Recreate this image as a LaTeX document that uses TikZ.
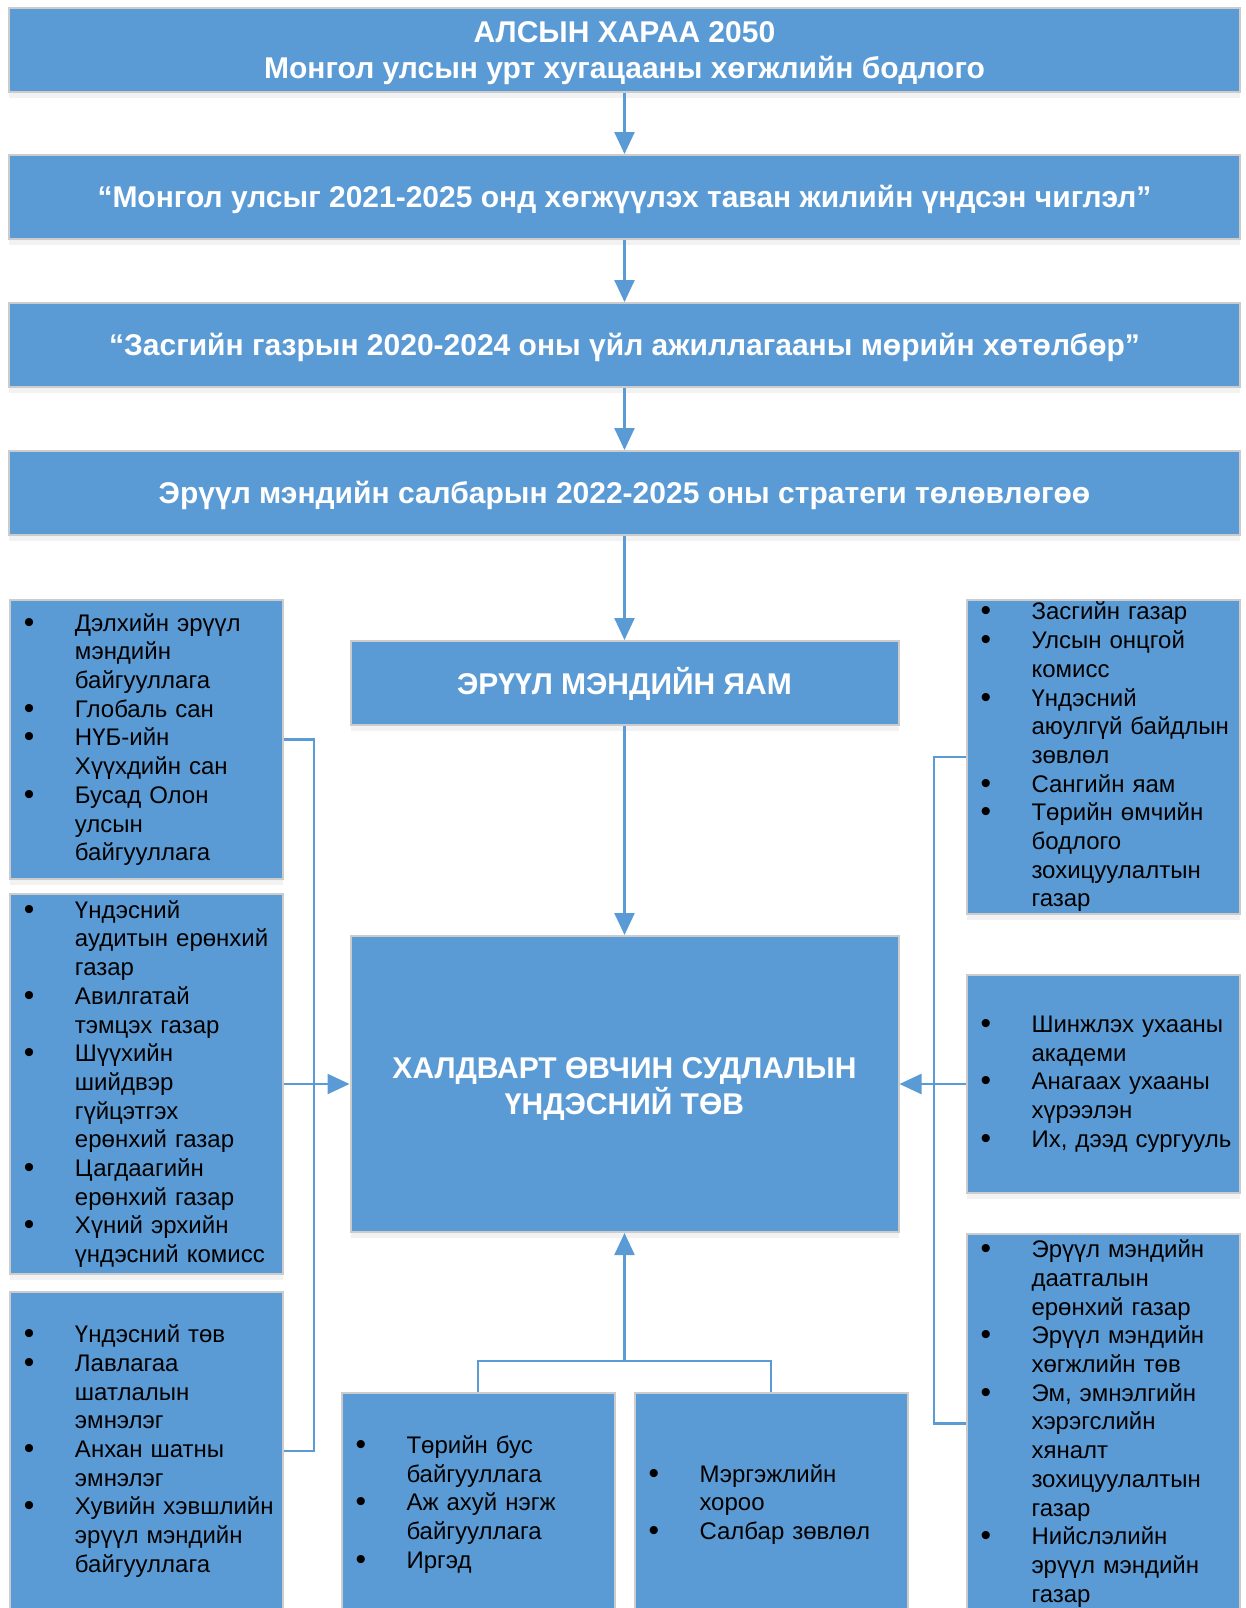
\documentclass[tikz,border=0pt]{standalone}
\usepackage{fontspec}
\setmainfont{Liberation Sans}
\usetikzlibrary{arrows.meta, shadows}
\definecolor{boxblue}{HTML}{5B9BD5}

% bullet line and continuation line of a list
\newcommand{\bl}[1]{\mbox{\makebox[25.5pt][l]{\raisebox{-0.5pt}{\fontsize{15}{14}\selectfont •}}#1}}
\newcommand{\cl}[1]{\mbox{\hspace*{25.5pt}#1}}

\begin{document}
\begin{tikzpicture}[x=0.5pt, y=-0.5pt,
    box/.style={draw=gray!40, line width=1pt, fill=boxblue,
        drop shadow={shadow xshift=0pt, shadow yshift=-3pt, opacity=0.1, fill=gray}},
    titlebox/.style={box, text=white, font=\bfseries\fontsize{15}{18}\selectfont,
        align=center, minimum height=42pt, execute at begin node={\rule{0pt}{14pt}}},
    listbox/.style={box, text=black, font=\fontsize{12}{14.35}\selectfont,
        align=left, text width=122.5pt, inner xsep=7pt, inner ysep=0pt},
    link/.style={draw=boxblue, line width=1.25pt},
    arr/.style={link, -{Triangle[width=10pt, length=11pt]}}]

    \useasboundingbox (0,0) rectangle (1246,1608);
    \clip (0,0) rectangle (1246,1608);

    % policy chain
    \node[titlebox, minimum width=615.5pt] (vision) at (624.5,49.5)
        {\rule{0pt}{14pt}АЛСЫН ХАРАА 2050\\Монгол улсын урт хугацааны хөгжлийн бодлого};
    \node[titlebox, minimum width=615.5pt] (fiveyear) at (624.5,197)
        {“Монгол улсыг 2021-2025 онд хөгжүүлэх таван жилийн үндсэн чиглэл”};
    \node[titlebox, minimum width=615.5pt] (govplan) at (624.5,345)
        {“Засгийн газрын 2020-2024 оны үйл ажиллагааны мөрийн хөтөлбөр”};
    \node[titlebox, minimum width=615.5pt] (strategy) at (624.5,493)
        {Эрүүл мэндийн салбарын 2022-2025 оны стратеги төлөвлөгөө};
    \node[titlebox, minimum width=274pt] (ministry) at (624.5,683)
        {ЭРҮҮЛ МЭНДИЙН ЯАМ};
    \node[titlebox, minimum width=274pt, minimum height=148pt] (center) at (624.5,1084)
        {\rule{0pt}{15pt}ХАЛДВАРТ ӨВЧИН СУДЛАЛЫН\\ҮНДЭСНИЙ ТӨВ};

    % left partners
    \node[listbox, minimum height=139.5pt] (intl) at (146.5,739.5)
        {\bl{Дэлхийн эрүүл}\\\cl{мэндийн}\\\cl{байгууллага}\\
         \bl{Глобаль сан}\\
         \bl{НҮБ-ийн}\\\cl{Хүүхдийн сан}\\
         \bl{Бусад Олон}\\\cl{улсын}\\\cl{байгууллага}};
    \node[listbox, minimum height=190pt] (control) at (146.5,1084)
        {\bl{Үндэсний}\\\cl{аудитын ерөнхий}\\\cl{газар}\\
         \bl{Авилгатай}\\\cl{тэмцэх газар}\\
         \bl{Шүүхийн}\\\cl{шийдвэр}\\\cl{гүйцэтгэх}\\\cl{ерөнхий газар}\\
         \bl{Цагдаагийн}\\\cl{ерөнхий газар}\\
         \bl{Хүний эрхийн}\\\cl{үндэсний комисс}};
    \node[listbox, minimum height=159pt] (clinics) at (146.5,1451)
        {\bl{Үндэсний төв}\\
         \bl{Лавлагаа}\\\cl{шатлалын}\\\cl{эмнэлэг}\\
         \bl{Анхан шатны}\\\cl{эмнэлэг}\\
         \bl{Хувийн хэвшлийн}\\\cl{эрүүл мэндийн}\\\cl{байгууллага}};

    % right partners
    \node[listbox, minimum height=157pt] (gov) at (1103,757)
        {\bl{Засгийн газар}\\
         \bl{Улсын онцгой}\\\cl{комисс}\\
         \bl{Үндэсний}\\\cl{аюулгүй байдлын}\\\cl{зөвлөл}\\
         \bl{Сангийн яам}\\
         \bl{Төрийн өмчийн}\\\cl{бодлого}\\\cl{зохицуулалтын}\\\cl{газар}};
    \node[listbox, minimum height=109pt] (science) at (1103,1084)
        {\bl{Шинжлэх ухааны}\\\cl{академи}\\
         \bl{Анагаах ухааны}\\\cl{хүрээлэн}\\
         \bl{Их, дээд сургууль}};
    \node[listbox, minimum height=189.5pt] (agencies) at (1103,1423.5)
        {\bl{Эрүүл мэндийн}\\\cl{даатгалын}\\\cl{ерөнхий газар}\\
         \bl{Эрүүл мэндийн}\\\cl{хөгжлийн төв}\\
         \bl{Эм, эмнэлгийн}\\\cl{хэрэгслийн}\\\cl{хяналт}\\\cl{зохицуулалтын}\\\cl{газар}\\
         \bl{Нийслэлийн}\\\cl{эрүүл мэндийн}\\\cl{газар}};

    % bottom partners
    \node[listbox, minimum height=111.5pt] (public) at (478,1504.5)
        {\bl{Төрийн бус}\\\cl{байгууллага}\\
         \bl{Аж ахуй нэгж}\\\cl{байгууллага}\\
         \bl{Иргэд}};
    \node[listbox, minimum height=111.5pt] (council) at (771,1504.5)
        {\bl{Мэргэжлийн}\\\cl{хороо}\\
         \bl{Салбар зөвлөл}};

    % chain arrows
    \draw[arr] (vision) -- (fiveyear);
    \draw[arr] (fiveyear) -- (govplan);
    \draw[arr] (govplan) -- (strategy);
    \draw[arr] (strategy) -- (ministry);
    \draw[arr] (ministry) -- (center);

    % side buses
    \coordinate (lbus) at (314,1084);
    \coordinate (rbus) at (934,1084);
    \draw[link] (intl.east) -| (lbus) |- (clinics.east);
    \draw[arr] (control.east) -- (center.west);
    \draw[link] (gov.west) -| (rbus) |- (agencies.west);
    \draw[arr] (science.west) -- (center.east);

    % bottom join
    \coordinate (bjoin) at (624.5,1361);
    \draw[link] (public.north) |- (bjoin) -| (council.north);
    \draw[arr] (bjoin) -- (center.south);
\end{tikzpicture}
\end{document}
